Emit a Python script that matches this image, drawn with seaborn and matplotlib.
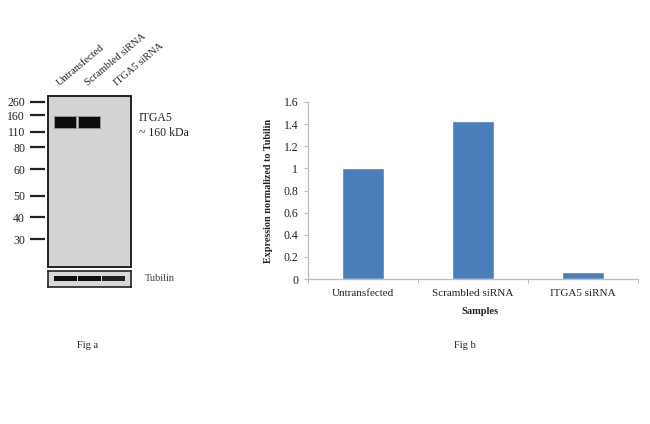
import numpy as np
import pandas as pd
import seaborn as sns
import matplotlib.pyplot as plt
from matplotlib.patches import Rectangle

#%% data
samples = ['Untransfected', 'Scrambled siRNA', 'ITGA5 siRNA']
expression = [1.0, 1.43, 0.06]

marker_kda = [260, 160, 110, 80, 60, 50, 40, 30]
marker_mig = [6, 19, 36, 51, 73, 100, 121, 143]   # distance from top of blot
itga5_band = [1.0, 1.0, 0.0]      # band intensity per lane
tubulin_band = [1.0, 1.0, 0.9]

#%% style
sns.set_theme(style='white')
plt.rcParams['font.family'] = ['Liberation Serif', 'DejaVu Serif']

W, H = 650, 424
fig = plt.figure(figsize=(6.5, 4.24), dpi=100)

def px_axes(x0, y0, x1, y1):
    return fig.add_axes([x0 / W, 1 - y1 / H, (x1 - x0) / W, (y1 - y0) / H])

lanes = np.arange(len(samples))

#%% Fig a : blot
axb = px_axes(48, 96, 131, 267)
axb.set_facecolor('#d3d3d3')
axb.set_xlim(-0.73, 2.73)
axb.set_ylim(171, 0)
band_cols = [(0.05, 0.05, 0.05, a) for a in itga5_band]
halo_cols = [(0.1, 0.1, 0.1, 0.35 * a) for a in itga5_band]
axb.bar(lanes, 13, bottom=20, width=0.92, color=halo_cols, linewidth=0)
axb.bar(lanes, 11, bottom=21, width=0.87, color=band_cols, linewidth=0)
for s in axb.spines.values():
    s.set_visible(False)
axb.spines['left'].set_position(('outward', 2))
axb.add_patch(Rectangle((0, 0), 1, 1, transform=axb.transAxes, fill=False,
                        lw=1.4, ec='#222222', clip_on=False, zorder=5))
axb.set_xticks([])
axb.set_yticks(marker_mig, [str(k) for k in marker_kda])
axb.tick_params(axis='y', left=True, length=10.5, width=1.6, pad=4,
                labelsize=8.5, color='#222222', labelcolor='#222222')

for i, name in enumerate(samples):
    axb.text(-0.2 + 1.2 * i, -8, name, rotation=40, rotation_mode='anchor',
             ha='left', va='bottom', fontsize=7.5, color='#222222')

axb.text(3.06, 22, 'ITGA5', ha='left', va='center', fontsize=8.5, color='#222222')
axb.text(3.06, 37, '~ 160 kDa', ha='left', va='center', fontsize=8.5, color='#222222')

# tubulin loading control
axt = px_axes(48, 271, 131, 287)
axt.set_facecolor('#d8d8d8')
axt.set_xlim(-0.73, 2.73)
axt.set_ylim(16, 0)
tub_cols = [(0.05, 0.05, 0.05, a) for a in tubulin_band]
axt.bar(lanes, 4.5, bottom=5, width=0.94, color=tub_cols, linewidth=0)
axt.set_xticks([])
axt.set_yticks([])
for s in axt.spines.values():
    s.set_visible(True)
    s.set_color('#222222')
    s.set_linewidth(1.2)
axt.text(3.3, 7.5, 'Tubilin', ha='left', va='center', fontsize=7.5, color='#444444')

fig.text(88 / W, 1 - 346 / H, 'Fig a', ha='center', va='center', fontsize=7.5, color='#222222')

#%% Fig b : bar chart
ax = px_axes(308, 102, 638, 279)
df = pd.DataFrame({'Samples': samples, 'Expression': expression})
sns.barplot(data=df, x='Samples', y='Expression', color='#4a7ebb', saturation=1,
            width=0.39, ax=ax)
ax.set_xlim(-0.5, 2.5)
ax.set_ylim(0, 1.6)
yt = np.round(np.arange(0, 1.61, 0.2), 1)
ax.set_yticks(yt, [f'{v:g}' for v in yt])
ax.set_xticks([-0.5, 0.5, 1.5, 2.5], minor=True)
for s in ['top', 'right']:
    ax.spines[s].set_visible(False)
for s in ['left', 'bottom']:
    ax.spines[s].set_color('#bdbdbd')
    ax.spines[s].set_linewidth(0.9)
ax.tick_params(axis='y', left=True, length=3, width=0.8, color='#bdbdbd', pad=4,
               labelsize=8.5, labelcolor='#222222')
ax.tick_params(axis='x', which='major', bottom=False, pad=1.5, labelsize=8,
               labelcolor='#222222')
ax.tick_params(axis='x', which='minor', bottom=True, length=3, width=0.8, color='#bdbdbd')
ax.set_ylabel('Expression normalized to Tubilin', fontsize=7.3, fontweight='bold', color='#222222')
ax.yaxis.set_label_coords(-0.106, 0.5)
ax.set_xlabel('Samples', fontsize=7.5, fontweight='bold', color='#222222')
ax.xaxis.set_label_coords(0.52, -0.158)

fig.text(465 / W, 1 - 346 / H, 'Fig b', ha='center', va='center', fontsize=7.5, color='#222222')

fig.savefig('out.png', dpi=100)
